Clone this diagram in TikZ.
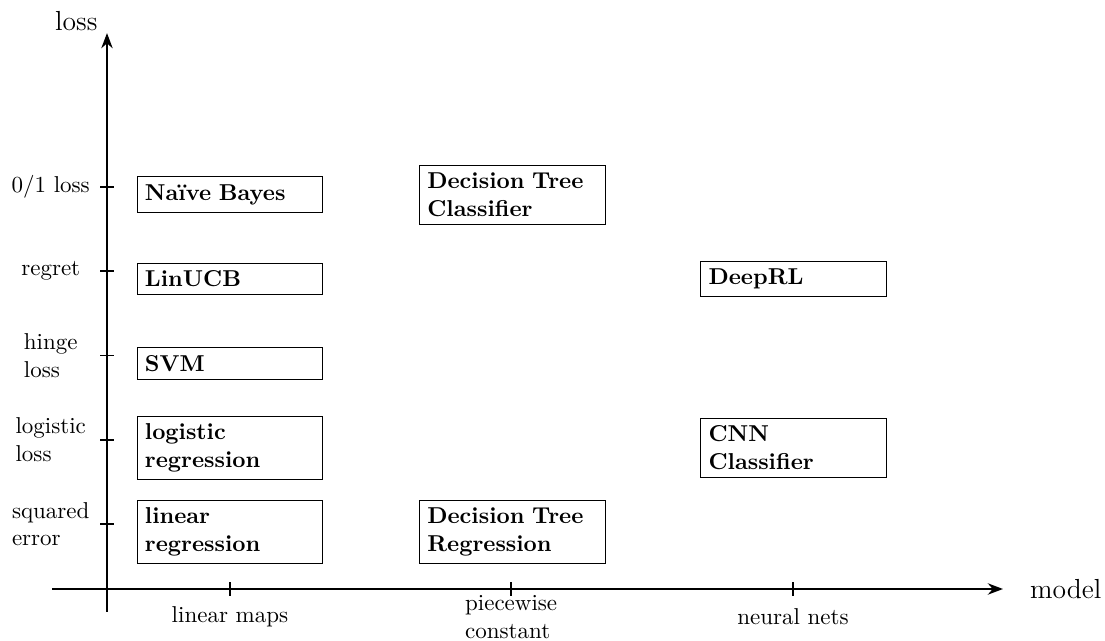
\documentclass[tikz,border=0pt]{standalone}
\usepackage{amsmath}
\usepackage{tikz}
\usetikzlibrary{positioning, arrows.meta}

\begin{document}
\begin{tikzpicture}[
    modelbox/.style={draw, text width=2.6cm, align=left, font=\bfseries},
    axislabel/.style={align=left},
    axisline/.style={thick, -{Stealth}}
]
    \useasboundingbox (-1.636,-0.78) rectangle (15.26,9.006);
    % Axes
    \coordinate (xstart) at (-0.84,0);
    \coordinate (xend) at (13.70,0);
    \coordinate (ystart) at (0,-0.35);
    \coordinate (yend) at (0,8.50);
    \draw [axisline] (xstart) -- (xend);
    \draw [axisline] (ystart) -- (yend);
    \node (lossname) at (-0.47,8.69) {\large loss};
    \node (modelname) at (14.66,0) {\large model};
    % Ticks
    \foreach \x in {1.88, 6.18, 10.49}
        \draw [thick] (\x,-0.1) -- (\x,0.1);
    \foreach \y in {0.99, 2.28, 3.57, 4.86, 6.15}
        \draw [thick] (-0.1,\y) -- (0.1,\y);
    % Model labels
    \node (linmaps) [axislabel] at (1.88,-0.43) {linear maps};
    \node (piecewise) [axislabel] at (6.18,-0.43) {piecewise\\constant};
    \node (neuralnets) [axislabel] at (10.49,-0.43) {neural nets};
    % Loss labels
    \node (squared) [axislabel] at (-0.86,0.99) {squared\\error};
    \node (logistic) [axislabel] at (-0.86,2.28) {logistic\\loss};
    \node (hinge) [axislabel] at (-0.86,3.57) {hinge\\loss};
    \node (regret) [axislabel] at (-0.86,4.86) {regret};
    \node (zeroone) [axislabel] at (-0.86,6.15) {0/1 loss};
    % Methods
    \node (nb) [modelbox] at (1.88,6.03) {Naïve Bayes};
    \node (linucb) [modelbox] at (1.88,4.74) {LinUCB};
    \node (svm) [modelbox] at (1.88,3.45) {SVM};
    \node (logreg) [modelbox] at (1.88,2.16) {logistic\\regression};
    \node (linreg) [modelbox] at (1.88,0.87) {linear\\regression};
    \node (dtc) [modelbox, right=1.47cm of nb] {Decision Tree\\Classifier};
    \node (dtr) [modelbox, right=1.47cm of linreg] {Decision Tree\\Regression};
    \node (deeprl) [modelbox, right=5.77cm of linucb] {DeepRL};
    \node (cnn) [modelbox, right=5.77cm of logreg] {CNN\\Classifier};
\end{tikzpicture}
\end{document}
